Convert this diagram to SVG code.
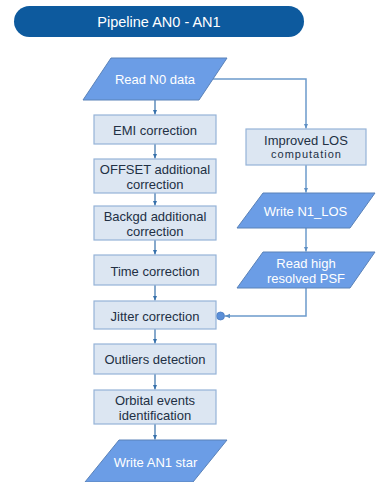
<svg xmlns="http://www.w3.org/2000/svg" width="377" height="482" viewBox="0 0 377 482">
  <defs>
    <style>
      .box { fill: #dce6f2; stroke: #95b3d7; stroke-width: 1.2; }
      .io { fill: #6b9de6; stroke: #5a82b8; stroke-width: 1; }
      .t { font-family: "Liberation Sans", Arial, sans-serif; font-size: 13px; fill: #223044; text-anchor: middle; }
      .w { font-family: "Liberation Sans", Arial, sans-serif; font-size: 13px; fill: #ffffff; text-anchor: middle; }
      .title { font-family: "Liberation Sans", Arial, sans-serif; font-size: 14.5px; fill: #ffffff; text-anchor: middle; }
      .c1 { fill: none; stroke: #3670aa; stroke-width: 1.2; }
      .c2 { fill: none; stroke: #6c9bcb; stroke-width: 1.5; }
    </style>
    <marker id="arr" markerWidth="6" markerHeight="6" refX="5" refY="3" orient="auto" markerUnits="userSpaceOnUse">
      <path d="M0,0.8 L5,3 L0,5.2 Z" fill="#3670aa"/>
    </marker>
    <marker id="arr2" markerWidth="6" markerHeight="6" refX="5" refY="3" orient="auto" markerUnits="userSpaceOnUse">
      <path d="M0,0.8 L5,3 L0,5.2 Z" fill="#5d8fc4"/>
    </marker>
  </defs>

  <g id="title">
    <rect x="14" y="6" width="290" height="31" rx="15.5" fill="#0d5a9e"/>
    <text class="title" x="159" y="27">Pipeline AN0 - AN1</text>
  </g>

  <g id="connectors">
    <line class="c1" x1="155" y1="100" x2="155" y2="114.5" marker-end="url(#arr)"/>
    <line class="c1" x1="155" y1="144" x2="155" y2="158.5" marker-end="url(#arr)"/>
    <line class="c1" x1="155" y1="193" x2="155" y2="205.5" marker-end="url(#arr)"/>
    <line class="c1" x1="155" y1="240" x2="155" y2="254.5" marker-end="url(#arr)"/>
    <line class="c1" x1="155" y1="285" x2="155" y2="300.5" marker-end="url(#arr)"/>
    <line class="c1" x1="155" y1="329" x2="155" y2="343.5" marker-end="url(#arr)"/>
    <line class="c1" x1="155" y1="374" x2="155" y2="389.5" marker-end="url(#arr)"/>
    <line class="c1" x1="155" y1="424" x2="155" y2="439.5" marker-end="url(#arr)"/>
    <polyline class="c2" points="213,79 306,79 306,128.5" marker-end="url(#arr2)"/>
    <line class="c2" x1="306" y1="165" x2="306" y2="192.5" marker-end="url(#arr2)"/>
    <line class="c2" x1="306" y1="228" x2="306" y2="251.5" marker-end="url(#arr2)"/>
    <polyline class="c2" points="306,288 306,316 225,316" marker-end="url(#arr2)"/>
    <circle cx="220.5" cy="316" r="4" fill="#5b8fd8" stroke="#4a7bbf" stroke-width="0.8"/>
  </g>

  <g id="read-n0">
    <polygon class="io" points="111,58 227,58 199,100 83,100"/>
    <text class="w" x="155" y="83.5">Read N0 data</text>
  </g>

  <g id="emi">
    <rect class="box" x="94" y="115" width="122" height="29"/>
    <text class="t" x="155" y="134.5">EMI correction</text>
  </g>

  <g id="offset">
    <rect class="box" x="94" y="159" width="122" height="34"/>
    <text class="t" x="155" y="173.5">OFFSET additional</text>
    <text class="t" x="155" y="188.5">correction</text>
  </g>

  <g id="backgd">
    <rect class="box" x="94" y="206" width="122" height="34"/>
    <text class="t" x="155" y="220.5">Backgd additional</text>
    <text class="t" x="155" y="235.5">correction</text>
  </g>

  <g id="time">
    <rect class="box" x="94" y="255" width="122" height="30"/>
    <text class="t" x="155" y="275.5">Time correction</text>
  </g>

  <g id="jitter">
    <rect class="box" x="94" y="301" width="122" height="28"/>
    <text class="t" x="155" y="320.5">Jitter correction</text>
  </g>

  <g id="outliers">
    <rect class="box" x="94" y="344" width="122" height="30"/>
    <text class="t" x="155" y="363.5">Outliers detection</text>
  </g>

  <g id="orbital">
    <rect class="box" x="94" y="390" width="122" height="34"/>
    <text class="t" x="155" y="404.5">Orbital events</text>
    <text class="t" x="155" y="419.5">identification</text>
  </g>

  <g id="write-an1">
    <polygon class="io" points="119,440 227,440 193,482 85,482"/>
    <text class="w" x="155.5" y="466.5">Write AN1 star</text>
  </g>

  <g id="improved-los">
    <rect class="box" x="246" y="129" width="120" height="36"/>
    <text class="t" x="306" y="145">Improved LOS</text>
    <text class="t" x="306.5" y="157.5" style="font-size:11px;letter-spacing:1px">computation</text>
  </g>

  <g id="write-n1-los">
    <polygon class="io" points="263,193 375,193 350,228 237,228"/>
    <text class="w" x="305.5" y="215.5">Write N1_LOS</text>
  </g>

  <g id="read-psf">
    <polygon class="io" points="263,252 375,252 350,288 237,288"/>
    <text class="w" x="306" y="267.5">Read high</text>
    <text class="w" x="306" y="282.5">resolved PSF</text>
  </g>
</svg>
